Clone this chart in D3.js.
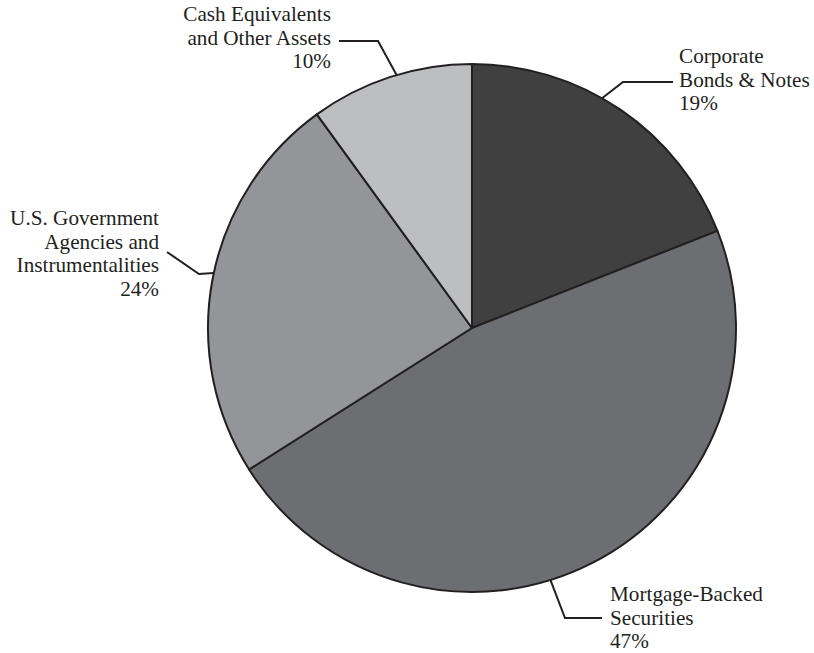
<!DOCTYPE html>
<html>
<head>
<meta charset="utf-8">
<script src="https://cdn.jsdelivr.net/npm/d3@7"></script>
<style>
  body { margin: 0; background: #fff; }
  svg text { font-family: "Liberation Serif", "Times New Roman", serif; font-size: 21.2px; fill: #231f20; }
</style>
</head>
<body>
<div id="pie_svg"></div>
<script>
// data
var categories = ["Corporate Bonds & Notes", "Mortgage-Backed Securities",
                  "U.S. Government Agencies and Instrumentalities", "Cash Equivalents and Other Assets"];
var values = [19, 47, 24, 10];
var labelLines = [["Corporate", "Bonds & Notes"], ["Mortgage-Backed", "Securities"],
                  ["U.S. Government", "Agencies and", "Instrumentalities"], ["Cash Equivalents", "and Other Assets"]];
var colors = ["#404041", "#6d6e71", "#939598", "#bcbec0"];

// label layout: anchor angle on rim (deg), elbow + end offsets from center, text anchor point
var layout = [
  {ang: 29.5,  elbow: [151, -246], end: [201, -246], tx: [207, -265], align: "start"},
  {ang: 162.7, elbow: [93, 290],   end: [130, 290],  tx: [138, 273],  align: "start"},
  {ang: 282,   elbow: [-273, -54], end: [-305, -76], tx: [-313, -103], align: "end"},
  {ang: 343.4, elbow: [-94, -287], end: [-133, -287], tx: [-141, -307], align: "end"}
];

var width = 814, height = 653;
var cx = 472, cy = 328, radius = 264;

var svg = d3.select("#pie_svg").append("svg")
    .attr("width", width)
    .attr("height", height)
  .append("g")
    .attr("transform", "translate(" + cx + "," + cy + ")");

var pie = d3.pie().sort(null).value(function(d) { return d; });
var arc = d3.arc().innerRadius(0).outerRadius(radius);
var arcs = pie(values);

svg.selectAll("path.slice")
    .data(arcs)
  .enter().append("path")
    .attr("class", "slice")
    .attr("d", arc)
    .style("fill", function(d, i) { return colors[i]; })
    .style("stroke", "#231f20")
    .style("stroke-width", 2)
    .style("stroke-linejoin", "round");

// leader lines
svg.selectAll("polyline.leader")
    .data(layout)
  .enter().append("polyline")
    .attr("class", "leader")
    .attr("points", function(d) {
      var a = d.ang * Math.PI / 180;
      var p0 = [Math.sin(a) * radius, -Math.cos(a) * radius];
      return [p0, d.elbow, d.end].map(function(p) { return p.join(","); }).join(" ");
    })
    .style("fill", "none")
    .style("stroke", "#231f20")
    .style("stroke-width", 2);

// labels
var lineH = 23.5;
layout.forEach(function(d, i) {
  var lines = labelLines[i].concat([values[i] + "%"]);
  var t = svg.append("text")
      .attr("text-anchor", d.align)
      .attr("x", d.tx[0])
      .attr("y", d.tx[1]);
  lines.forEach(function(s, j) {
    t.append("tspan")
      .attr("x", d.tx[0])
      .attr("y", d.tx[1] + j * lineH)
      .text(s);
  });
});
</script>
</body>
</html>
